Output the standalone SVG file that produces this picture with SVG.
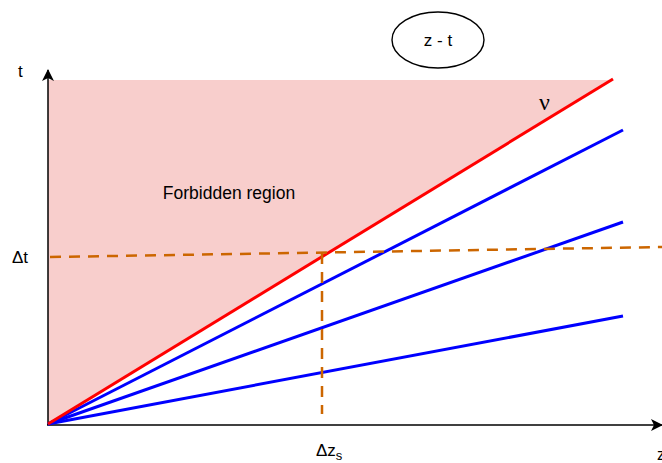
<svg xmlns="http://www.w3.org/2000/svg" width="662" height="463" viewBox="0 0 662 463">
<style>
.lbl{font-family:"Liberation Sans",Arial,sans-serif;fill:#000}
.ax{stroke:#000;stroke-width:1.5;fill:none}
.blue{stroke:#0000ff;stroke-width:3;fill:none}
.dash{stroke:#cc6600;stroke-width:2.5;stroke-dasharray:11 8;fill:none}
</style>
<defs>
<marker id="arr" viewBox="0 0 12 12" refX="11" refY="6" markerWidth="12" markerHeight="12" markerUnits="userSpaceOnUse" orient="auto">
<path d="M0,0 L12,6 L0,12 L3,6 Z" fill="#000"/>
</marker>
</defs>
<g id="region">
<polygon points="48,424 48,80 613,80" fill="#f8cecc"/>
<text class="lbl" x="229" y="199" font-size="17.5" text-anchor="middle">Forbidden region</text>
</g>
<g id="connectors">
<line class="ax" x1="48" y1="425" x2="48" y2="70" marker-end="url(#arr)"/>
<line class="ax" x1="47" y1="425" x2="662" y2="425" marker-end="url(#arr)"/>
<line class="blue" x1="48" y1="424" x2="623" y2="130"/>
<line class="blue" x1="48" y1="424" x2="623" y2="222"/>
<line class="blue" x1="48" y1="424" x2="623" y2="316"/>
<line x1="48" y1="424" x2="613" y2="79" stroke="#ff0000" stroke-width="3"/>
<line class="dash" x1="50" y1="257" x2="662" y2="247"/>
<line class="dash" x1="322" y1="253" x2="322" y2="414"/>
</g>
<g id="ellipse">
<ellipse cx="438" cy="40" rx="46" ry="28" fill="#fff" stroke="#000" stroke-width="1.4"/>
<text class="lbl" x="438" y="46" font-size="17" text-anchor="middle">z - t</text>
</g>
<g id="labels">
<text class="lbl" x="18" y="77" font-size="17">t</text>
<text class="lbl" x="12" y="263" font-size="17">Δt</text>
<text class="lbl" x="316" y="456" font-size="17">Δz<tspan font-size="13" dy="4">s</tspan></text>
<text x="539" y="110" font-family="'Liberation Serif',serif" font-size="24" fill="#000">ν</text>
<text class="lbl" x="657" y="460" font-size="16">z</text>
</g>
</svg>
